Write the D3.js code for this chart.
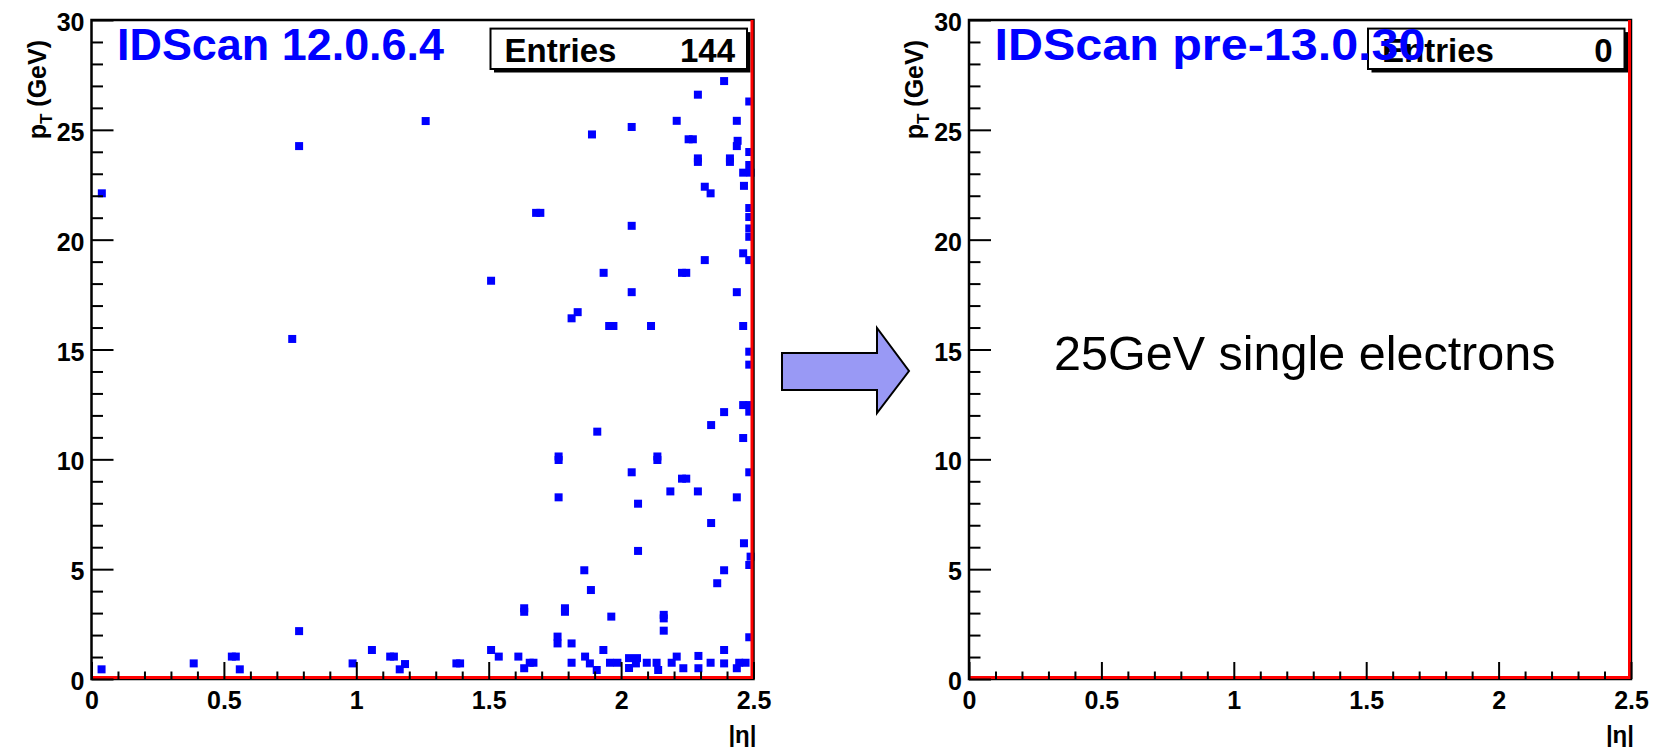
<!DOCTYPE html>
<html>
<head>
<meta charset="utf-8">
<script src="https://cdn.jsdelivr.net/npm/d3@7"></script>
<style>
  html, body { margin: 0; padding: 0; background: #ffffff; }
  svg { display: block; }
  text { font-family: "Liberation Sans", Arial, Helvetica, sans-serif; }
</style>
</head>
<body>
<svg id="chart" width="1661" height="747"></svg>
<script>
// Reconstructed tracks: [|eta|, pT in GeV]
const tracksOld = [
  // |eta| < 1.5
  [0.039, 22.11], [0.784, 24.26], [1.262, 25.40], [0.758, 15.48], [0.784, 2.18],
  [0.038, 0.44], [0.386, 0.71], [0.530, 1.02], [0.545, 1.02], [0.560, 0.44],
  [0.986, 0.71], [1.059, 1.32], [1.128, 1.02], [1.142, 1.02], [1.164, 0.44],
  [1.184, 0.68], [1.378, 0.71], [1.392, 0.71],
  // 1.5 < |eta| < 2.5, pT above 2 GeV
  [1.509, 18.13], [2.389, 27.22], [2.290, 26.60], [2.484, 26.29], [2.210, 25.41],
  [2.437, 25.41], [2.040, 25.13], [1.890, 24.79], [2.255, 24.57], [2.271, 24.57],
  [2.440, 24.50], [2.437, 24.26], [2.484, 23.99], [2.290, 23.70], [2.290, 23.54],
  [2.411, 23.70], [2.411, 23.54], [2.484, 23.40], [2.461, 23.05], [2.489, 23.05],
  [2.464, 22.45], [2.316, 22.41], [2.338, 22.11], [1.679, 21.22], [1.695, 21.22],
  [2.484, 21.44], [2.484, 21.03], [2.040, 20.63], [2.484, 20.51], [2.484, 20.13],
  [2.461, 19.38], [2.484, 19.07], [2.316, 19.07], [1.934, 18.49], [2.230, 18.49],
  [2.246, 18.49], [2.040, 17.61], [2.437, 17.61], [1.836, 16.70], [1.813, 16.42],
  [1.955, 16.07], [1.971, 16.07], [2.113, 16.07], [2.461, 16.07], [2.484, 14.90],
  [2.484, 14.31], [2.461, 12.47], [2.484, 12.47], [2.484, 12.17], [2.389, 12.15],
  [2.340, 11.56], [1.910, 11.26], [2.461, 10.97], [1.764, 10.13], [1.764, 9.97],
  [2.137, 10.13], [2.137, 9.97], [2.040, 9.41], [2.484, 9.41], [2.230, 9.12],
  [2.246, 9.12], [2.186, 8.54], [2.290, 8.54], [1.764, 8.27], [2.437, 8.27],
  [2.064, 7.98], [2.340, 7.10], [2.464, 6.18], [2.489, 5.57], [2.484, 5.19],
  [2.064, 5.83], [1.861, 4.95], [2.389, 4.95], [1.886, 4.05], [2.363, 4.36],
  [1.634, 3.22], [1.634, 3.06], [1.788, 3.22], [1.788, 3.06], [1.963, 2.84],
  [2.161, 2.92], [2.161, 2.76], [2.161, 2.20], [2.484, 1.90],
  // 1.5 < |eta| < 2.5, pT below 2 GeV
  [1.509, 1.32], [1.538, 1.02], [1.760, 1.93], [1.760, 1.62], [1.813, 1.62],
  [1.612, 1.02], [1.655, 0.74], [1.669, 0.74], [1.634, 0.49], [1.813, 0.74],
  [1.864, 1.02], [1.882, 0.71], [1.908, 0.41], [1.933, 1.32], [1.958, 0.74],
  [1.986, 0.74], [2.030, 0.95], [2.060, 0.95], [2.030, 0.50], [2.056, 0.71],
  [2.097, 0.74], [2.134, 0.74], [2.140, 0.41], [2.210, 1.02], [2.191, 0.74],
  [2.235, 0.49], [2.292, 1.05], [2.292, 0.49], [2.338, 0.74], [2.389, 1.32],
  [2.389, 0.71], [2.446, 0.74], [2.437, 0.49], [2.470, 0.74]
];
const tracksNew = [];

const panelTitles = ["IDScan 12.0.6.4", "IDScan pre-13.0.30"];
const panelEntries = [144, 0];
const etaMajorTicks = [0, 0.5, 1, 1.5, 2, 2.5];
const ptMajorTicks = [0, 5, 10, 15, 20, 25, 30];
const etaRange = [0, 2.5];
const ptRange = [0, 30];
const noteText = "25GeV single electrons";

// ---- layout ----
const W = 1661, H = 747;
const frameTop = 20, frameBottom = 679, frameWidth = 662;
const panelLeft = [91.5, 969];
const titleWidth = [327, 431];
const markerSize = 8;
const FONT = '"Liberation Sans", Arial, Helvetica, sans-serif';

const svg = d3.select("#chart");
svg.append("rect").attr("width", W).attr("height", H).attr("fill", "#ffffff");

function drawPanel(idx, data) {
  const x0 = panelLeft[idx], x1 = x0 + frameWidth;
  const x = d3.scaleLinear().domain(etaRange).range([x0, x1]);
  const y = d3.scaleLinear().domain(ptRange).range([frameBottom, frameTop]);
  const g = svg.append("g");

  // stats box (drawn before the title so the title sits on top)
  const bx0 = x1 - 263, bx1 = x1 - 6.5, by0 = 28.6, by1 = 69;
  g.append("rect").attr("x", bx0 + 3.5).attr("y", by0 + 3.5)
    .attr("width", bx1 - bx0).attr("height", by1 - by0).attr("fill", "#000");
  g.append("rect").attr("x", bx0).attr("y", by0)
    .attr("width", bx1 - bx0).attr("height", by1 - by0)
    .attr("fill", "#fff").attr("stroke", "#000").attr("stroke-width", 2);
  g.append("text").attr("x", bx0 + 14).attr("y", 62)
    .attr("font-size", 33).attr("font-weight", "bold").attr("fill", "#000")
    .text("Entries");
  g.append("text").attr("x", bx1 - 12).attr("y", 62).attr("text-anchor", "end")
    .attr("font-size", 33).attr("font-weight", "bold").attr("fill", "#000")
    .text(panelEntries[idx]);

  // markers
  g.append("g").selectAll("rect").data(data).join("rect")
    .attr("x", d => x(d[0]) - markerSize / 2)
    .attr("y", d => y(d[1]) - markerSize / 2)
    .attr("width", markerSize).attr("height", markerSize)
    .attr("fill", "#0000ff");

  // frame
  g.append("rect").attr("x", x0).attr("y", frameTop)
    .attr("width", frameWidth).attr("height", frameBottom - frameTop)
    .attr("fill", "none").attr("stroke", "#000").attr("stroke-width", 2.5);
  g.append("path")
    .attr("d", `M${x0},${frameBottom - 1.5}H${x1 - 1.5}V${frameTop}`)
    .attr("fill", "none").attr("stroke", "#ff0000").attr("stroke-width", 3);

  // y axis: major and minor ticks pointing into the frame
  const yMinor = d3.range(ptRange[0], ptRange[1] + 1).filter(v => v % 5 !== 0);
  const yAxisMinor = d3.axisLeft(y).tickValues(yMinor).tickSizeInner(-11.5)
    .tickSizeOuter(0).tickFormat("");
  const yAxisMajor = d3.axisLeft(y).tickValues(ptMajorTicks).tickSizeInner(-22)
    .tickSizeOuter(0).tickPadding(7).tickFormat(d3.format("d"));
  [yAxisMinor, yAxisMajor].forEach(ax => {
    const a = g.append("g").attr("transform", `translate(${x0},0)`).call(ax);
    a.select(".domain").remove();
    a.selectAll("line").attr("stroke", "#000").attr("stroke-width", 2);
    a.selectAll("text").attr("font-size", 25).attr("font-weight", "bold")
      .attr("font-family", FONT).attr("fill", "#000").attr("dy", "0.42em");
  });

  // x axis
  const xMinor = d3.range(0, 26).map(v => v / 10).filter(v => Math.round(v * 10) % 5 !== 0);
  const xAxisMinor = d3.axisBottom(x).tickValues(xMinor).tickSizeInner(-7.5)
    .tickSizeOuter(0).tickFormat("");
  const xAxisMajor = d3.axisBottom(x).tickValues(etaMajorTicks).tickSizeInner(-17)
    .tickSizeOuter(0).tickPadding(12.5).tickFormat(d3.format("~g"));
  [xAxisMinor, xAxisMajor].forEach(ax => {
    const a = g.append("g").attr("transform", `translate(0,${frameBottom})`).call(ax);
    a.select(".domain").remove();
    a.selectAll("line").attr("stroke", "#000").attr("stroke-width", 2);
    a.selectAll("text").attr("font-size", 25).attr("font-weight", "bold")
      .attr("font-family", FONT).attr("fill", "#000");
  });

  // axis titles
  const yt = g.append("text")
    .attr("transform", `translate(${x0 - 46},${frameTop + 20}) rotate(-90)`)
    .attr("text-anchor", "end").attr("font-size", 25).attr("font-weight", "bold")
    .attr("fill", "#000");
  yt.append("tspan").text("p");
  yt.append("tspan").attr("font-size", 17).attr("dy", 6).text("T");
  yt.append("tspan").attr("dy", -6).text(" (GeV)");

  g.append("text").attr("x", x1 + 3).attr("y", 743).attr("text-anchor", "end")
    .attr("font-size", 24).attr("font-weight", "bold").attr("fill", "#000")
    .text("|η|");

  // histogram title
  g.append("text").attr("x", x0 + 25.5).attr("y", 59.5)
    .attr("font-size", 44).attr("font-weight", "bold").attr("fill", "#0000ff")
    .attr("textLength", titleWidth[idx]).attr("lengthAdjust", "spacingAndGlyphs")
    .text(panelTitles[idx]);
}

drawPanel(0, tracksOld);
drawPanel(1, tracksNew);

// arrow between the two panels
const arrowPts = [[782, 353], [877, 353], [877, 328], [909, 371], [877, 413], [877, 390], [782, 390]];
svg.append("path")
  .attr("d", d3.line()(arrowPts) + "Z")
  .attr("fill", "#9999f5").attr("stroke", "#000").attr("stroke-width", 2)
  .attr("stroke-linejoin", "miter");

// annotation inside the right panel
svg.append("text").attr("x", 1054).attr("y", 370)
  .attr("font-size", 48.5).attr("fill", "#000")
  .text(noteText);
</script>
</body>
</html>
